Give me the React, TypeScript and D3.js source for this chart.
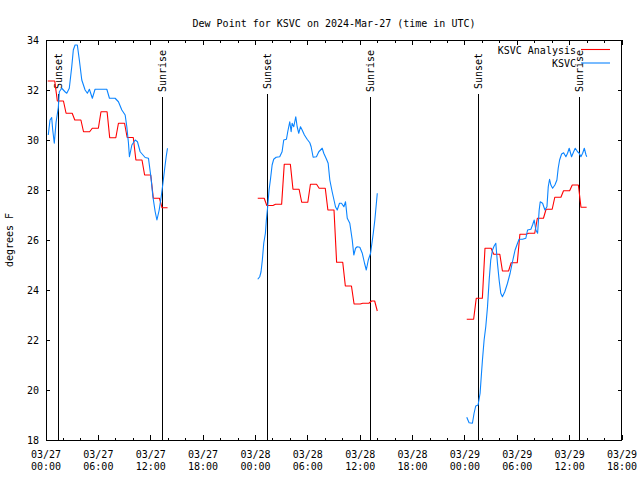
import React from "react";
import * as d3 from "d3";

const W = 640;
const H = 480;
const TITLE = "Dew Point for KSVC on 2024-Mar-27 (time in UTC)";
const Y_LABEL = "degrees F";
const START_UTC = Date.UTC(2024, 2, 27, 0, 0);
const SPAN_HOURS = 66;
const Y_DOMAIN = [18, 34];
const Y_TICKS = [18, 20, 22, 24, 26, 28, 30, 32, 34];
const SUNSET_HOURS = [1.41, 25.37, 49.45];
const SUNRISE_HOURS = [13.26, 37.14, 61.02];
const SERIES_NAMES = ["KSVC Analysis", "KSVC"];
const SERIES_COLORS = ["#ff0000", "#0a84ff"];

// KSVC observations: [hours since 03/27 00:00 UTC, dew point F]
const ksvcSeg1: [number, number][] = [
  [0.26, 30.2], [0.46, 30.8], [0.65, 30.9], [0.77, 30.4], [0.95, 29.87], [1.15, 30.7],
  [1.41, 31.3], [1.53, 31.93], [1.8, 32.07], [2.18, 31.93], [2.38, 31.87], [2.67, 32.07],
  [2.95, 32.93], [3.13, 33.6], [3.33, 33.8], [3.59, 33.8], [3.82, 33.2], [4.1, 32.4],
  [4.48, 32.0], [4.74, 31.87], [4.97, 32.03], [5.31, 31.67], [5.62, 32.03], [6.97, 32.03],
  [7.27, 31.67], [7.92, 31.67], [8.3, 31.53], [8.69, 31.2], [9.07, 31.0], [9.26, 30.53],
  [9.45, 29.87], [9.56, 29.33], [9.84, 29.8], [10.22, 30.0], [10.48, 29.93], [10.79, 29.53],
  [11.36, 29.3], [11.74, 29.27], [12.02, 28.53], [12.25, 27.73], [12.51, 27.13], [12.71, 26.8],
  [12.97, 27.2], [13.2, 27.73], [13.4, 28.27], [13.58, 28.8], [13.77, 29.33], [13.92, 29.67],
];
const ksvcSeg2: [number, number][] = [
  [24.26, 24.43], [24.49, 24.53], [24.64, 24.73], [24.79, 25.2], [24.95, 25.87], [25.14, 26.27],
  [25.25, 26.8], [25.4, 27.33], [25.56, 28.0], [25.71, 28.4], [25.91, 29.0], [26.09, 29.23],
  [26.37, 29.31], [26.78, 29.33], [27.05, 29.53], [27.24, 30.0], [27.55, 30.03], [27.7, 30.33],
  [27.93, 30.73], [28.09, 30.33], [28.2, 30.67], [28.39, 30.53], [28.62, 30.93], [28.78, 30.53],
  [28.96, 30.27], [29.16, 30.53], [29.35, 30.4], [29.61, 30.2], [29.92, 30.03], [30.23, 29.89],
  [30.38, 29.73], [30.61, 29.31], [30.99, 29.33], [31.26, 29.53], [31.65, 29.67], [31.83, 29.47],
  [32.14, 29.23], [32.33, 29.07], [32.52, 28.4], [32.79, 27.93], [33.17, 27.33], [33.37, 27.2],
  [33.63, 27.47], [33.86, 27.47], [34.13, 27.33], [34.32, 27.53], [34.52, 26.87], [34.81, 26.67],
  [35.09, 26.0], [35.27, 25.4], [35.47, 25.67], [35.66, 25.73], [35.96, 25.71], [36.24, 25.47],
  [36.5, 25.07], [36.7, 24.8], [36.93, 25.2], [37.19, 25.47], [37.5, 26.27], [37.68, 26.8],
  [37.96, 27.87],
];
const ksvcSeg3: [number, number][] = [
  [48.21, 18.91], [48.48, 18.69], [48.86, 18.67], [49.05, 19.07], [49.24, 19.36], [49.51, 19.4],
  [49.74, 19.87], [49.9, 20.67], [50.01, 21.2], [50.2, 22.0], [50.39, 22.53], [50.59, 23.33],
  [50.78, 24.4], [50.96, 25.2], [51.16, 25.6], [51.35, 25.76], [51.54, 25.87], [51.73, 25.07],
  [51.92, 24.4], [52.11, 23.87], [52.3, 23.73], [52.57, 23.93], [52.88, 24.27], [53.18, 24.67],
  [53.45, 25.13], [53.75, 25.6], [54.03, 25.87], [54.21, 26.03], [54.6, 26.03], [54.98, 26.07],
  [55.18, 26.4], [55.56, 26.43], [55.75, 26.6], [55.94, 26.8], [56.13, 26.4], [56.33, 26.27],
  [56.51, 27.2], [56.63, 27.53], [56.9, 27.47], [57.17, 27.2], [57.4, 27.33], [57.55, 28.13],
  [57.7, 28.43], [57.85, 28.2], [58.05, 28.07], [58.31, 28.2], [58.54, 28.4], [58.69, 28.87],
  [58.85, 29.2], [59.08, 29.44], [59.31, 29.49], [59.57, 29.33], [59.76, 29.47], [59.95, 29.67],
  [60.22, 29.33], [60.46, 29.53], [60.64, 29.67], [60.91, 29.53], [61.1, 29.47], [61.29, 29.33],
  [61.49, 29.47], [61.68, 29.67], [61.88, 29.4], [61.96, 29.33],
];

// KSVC Analysis (hourly): [hour the value starts, dew point F]
const analysisSeg1: [number, number][] = [
  [0.2, 32.36], [1, 31.56], [2, 31.07], [3, 30.8], [4, 30.33], [5, 30.47], [6, 31.13],
  [7, 30.09], [8, 30.67], [9, 30.1], [10, 29.2], [11, 28.6], [12, 27.67], [13, 27.29],
];
const analysisSeg1End = 13.93;
const analysisSeg2: [number, number][] = [
  [24.26, 27.67], [25, 27.38], [26, 27.43], [27, 29.03], [28, 28.03], [29, 27.51], [30, 28.23],
  [31, 28.07], [32, 27.2], [33, 25.11], [34, 24.16], [35, 23.44], [36, 23.47], [37, 23.56],
  [37.66, 23.16],
];
const analysisSeg2End = 37.96;
const analysisSeg3: [number, number][] = [
  [48.21, 22.83], [49, 23.67], [50, 25.67], [51, 25.43], [52, 24.76], [53, 25.09], [54, 26.23],
  [55, 26.27], [56, 26.87], [57, 27.23], [58, 27.71], [59, 27.97], [60, 28.2], [61, 27.31],
];
const analysisSeg3End = 61.95;

const RAMP = 0.3;

const FONT = "'DejaVu Sans Mono', monospace";

const toDate = (h: number) => new Date(START_UTC + h * 3600 * 1000);

function expandSteps(seg: [number, number][], end: number): [number, number][] {
  const out: [number, number][] = [];
  seg.forEach(([t, v], i) => {
    if (i === 0) {
      out.push([t, v]);
    } else {
      out.push([t, seg[i - 1][1]]);
      out.push([Math.min(t + RAMP, end), v]);
    }
  });
  out.push([end, seg[seg.length - 1][1]]);
  return out;
}

export default function App() {
  const left = 46, right = 622, top = 40, bottom = 440;
  const x = d3.scaleUtc().domain([toDate(0), toDate(SPAN_HOURS)]).range([left, right]);
  const y = d3.scaleLinear().domain(Y_DOMAIN).range([bottom, top]);
  const line = d3
    .line<[number, number]>()
    .x((d) => x(toDate(d[0])))
    .y((d) => y(d[1]));

  const majorTicks = x.ticks(d3.utcHour.every(6)!);
  const minorTicks = x.ticks(d3.utcHour.every(2)!).filter((t) => t.getUTCHours() % 6 !== 0);
  const fmtDate = d3.utcFormat("%m/%d");
  const fmtTime = d3.utcFormat("%H:%M");

  const analysisSegs = [
    expandSteps(analysisSeg1, analysisSeg1End),
    expandSteps(analysisSeg2, analysisSeg2End),
    expandSteps(analysisSeg3, analysisSeg3End),
  ];
  const ksvcSegs = [ksvcSeg1, ksvcSeg2, ksvcSeg3];

  const textStyle = { fontFamily: FONT, fontSize: 10, fill: "#000" } as const;
  const labelCenterY = 71;

  const sunMarks = [
    ...SUNSET_HOURS.map((h) => ({ h, label: "Sunset" })),
    ...SUNRISE_HOURS.map((h) => ({ h, label: "Sunrise" })),
  ];

  return (
    <svg width={W} height={H} style={{ display: "block", position: "absolute", left: 0, top: 0, background: "#fff" }}>
      <rect x={0} y={0} width={W} height={H} fill="#fff" />
      <text x={(left + right) / 2} y={27} textAnchor="middle" style={textStyle}>
        {TITLE}
      </text>
      <text
        transform={`translate(13, ${(top + bottom) / 2}) rotate(-90)`}
        textAnchor="middle"
        style={textStyle}
      >
        {Y_LABEL}
      </text>

      {/* y ticks */}
      {Y_TICKS.map((t) => (
        <g key={`y${t}`}>
          <line x1={left} x2={left + 4} y1={y(t)} y2={y(t)} stroke="#000" shapeRendering="crispEdges" />
          <line x1={right - 4} x2={right} y1={y(t)} y2={y(t)} stroke="#000" shapeRendering="crispEdges" />
          <text x={left - 7} y={y(t)} dy="0.35em" textAnchor="end" style={textStyle}>
            {t}
          </text>
        </g>
      ))}

      {/* x ticks */}
      {majorTicks.map((t) => (
        <g key={`x${t.getTime()}`}>
          <line x1={x(t)} x2={x(t)} y1={bottom} y2={bottom - 5} stroke="#000" shapeRendering="crispEdges" />
          <line x1={x(t)} x2={x(t)} y1={top} y2={top + 5} stroke="#000" shapeRendering="crispEdges" />
          <text x={x(t)} y={458} textAnchor="middle" style={textStyle}>
            {fmtDate(t)}
          </text>
          <text x={x(t)} y={470} textAnchor="middle" style={textStyle}>
            {fmtTime(t)}
          </text>
        </g>
      ))}
      {minorTicks.map((t) => (
        <g key={`m${t.getTime()}`}>
          <line x1={x(t)} x2={x(t)} y1={bottom} y2={bottom - 2.5} stroke="#000" shapeRendering="crispEdges" />
          <line x1={x(t)} x2={x(t)} y1={top} y2={top + 2.5} stroke="#000" shapeRendering="crispEdges" />
        </g>
      ))}

      {/* sunrise / sunset markers */}
      {sunMarks.map(({ h, label }) => {
        const lx = Math.round(x(toDate(h))) + 0.5;
        const halfLen = (label.length * 6) / 2;
        return (
          <g key={`${label}${h}`}>
            <line
              x1={lx}
              x2={lx}
              y1={bottom}
              y2={labelCenterY + halfLen + 5}
              stroke="#000"
              strokeWidth={1}
              shapeRendering="crispEdges"
            />
            <text
              transform={`translate(${lx}, ${labelCenterY}) rotate(-90)`}
              textAnchor="middle"
              dy="0.35em"
              style={textStyle}
            >
              {label}
            </text>
          </g>
        );
      })}

      {/* series */}
      {analysisSegs.map((seg, i) => (
        <path key={`a${i}`} d={line(seg) || ""} fill="none" stroke={SERIES_COLORS[0]} strokeWidth={1.1} strokeLinejoin="round" />
      ))}
      {ksvcSegs.map((seg, i) => (
        <path key={`k${i}`} d={line(seg) || ""} fill="none" stroke={SERIES_COLORS[1]} strokeWidth={1.1} strokeLinejoin="round" />
      ))}

      {/* frame */}
      <rect x={left + 0.5} y={top + 0.5} width={right - left - 1} height={bottom - top} fill="none" stroke="#000" shapeRendering="crispEdges" />

      {/* legend */}
      {SERIES_NAMES.map((name, i) => (
        <g key={name}>
          <text x={576} y={53.5 + i * 13.5} textAnchor="end" style={textStyle}>
            {name}
          </text>
          <line x1={581} x2={610} y1={49.5 + i * 13.5} y2={49.5 + i * 13.5} stroke={SERIES_COLORS[i]} strokeWidth={1.1} />
        </g>
      ))}
    </svg>
  );
}
